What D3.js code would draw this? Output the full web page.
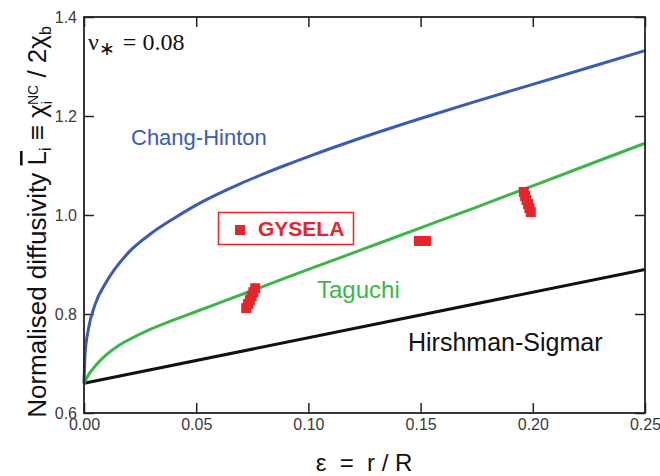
<!DOCTYPE html>
<html>
<head>
<meta charset="utf-8">
<script src="https://cdn.jsdelivr.net/npm/d3@7"></script>
<style>
  html, body { margin: 0; padding: 0; background: #fff; }
  svg { display: block; }
</style>
</head>
<body>
<svg id="chart" width="660" height="476"></svg>
<script>
// ---- data ----
const xTicks = [0, 0.05, 0.10, 0.15, 0.20, 0.25];
const yTicks = [0.6, 0.8, 1.0, 1.2, 1.4];

const changHintonEps = [0, 0.0005, 0.002, 0.005, 0.01, 0.02, 0.03, 0.04, 0.05, 0.06, 0.07, 0.08, 0.09, 0.10, 0.125, 0.15, 0.175, 0.20, 0.225, 0.25];
const changHintonVal = [0.66, 0.72, 0.77, 0.82, 0.865, 0.925, 0.963, 0.993, 1.02, 1.043, 1.064, 1.083, 1.101, 1.118, 1.158, 1.195, 1.23, 1.264, 1.298, 1.332];

const taguchiEps = [0, 0.002, 0.005, 0.01, 0.015, 0.02, 0.03, 0.04, 0.05, 0.06, 0.08, 0.10, 0.125, 0.15, 0.175, 0.20, 0.225, 0.25];
const taguchiVal = [0.66, 0.677, 0.695, 0.718, 0.735, 0.748, 0.77, 0.788, 0.805, 0.822, 0.856, 0.89, 0.932, 0.974, 1.016, 1.059, 1.102, 1.145];

const hirshmanEps = [0, 0.25];
const hirshmanVal = [0.66, 0.89];

const gyselaEps = [0.0723, 0.0731, 0.0739, 0.0747, 0.0755, 0.0763,
                   0.1493, 0.1524,
                   0.1960, 0.1966, 0.1972, 0.1979, 0.1985, 0.1991];
const gyselaVal = [0.812, 0.820, 0.828, 0.836, 0.844, 0.852,
                   0.9475, 0.9475,
                   1.0465, 1.0384, 1.0303, 1.0222, 1.0141, 1.006];

// ---- layout ----
const svg = d3.select("#chart");
const L = 84, R = 645, T = 17, B = 413;
const x = d3.scaleLinear().domain([0, 0.25]).range([L, R]);
const y = d3.scaleLinear().domain([0.6, 1.4]).range([B, T]);

const zip = (a, b) => a.map((v, i) => [v, b[i]]);
const line = d3.line().x(d => x(d[0])).y(d => y(d[1])).curve(d3.curveMonotoneX);
const sans = "Liberation Sans, Arial, sans-serif";

// axes with inward ticks
function styleAxis(g) {
  g.select(".domain").remove();
  g.selectAll(".tick line").attr("stroke", "#222").attr("stroke-width", 1.5);
  g.selectAll(".tick text").attr("fill", "#3a3a3a")
    .style("font-family", sans).style("font-size", "16px");
}
svg.append("g").attr("transform", `translate(0,${B})`)
  .call(d3.axisBottom(x).tickValues(xTicks).tickFormat(d3.format(".2f")).tickSize(-10).tickPadding(6))
  .call(styleAxis);
svg.append("g").attr("transform", `translate(0,${T})`)
  .call(d3.axisTop(x).tickValues(xTicks).tickFormat("").tickSize(-10))
  .call(styleAxis);
svg.append("g").attr("transform", `translate(${L},0)`)
  .call(d3.axisLeft(y).tickValues(yTicks).tickFormat(d3.format(".1f")).tickSize(-10).tickPadding(7))
  .call(styleAxis);
svg.append("g").attr("transform", `translate(${R},0)`)
  .call(d3.axisRight(y).tickValues(yTicks).tickFormat("").tickSize(-10))
  .call(styleAxis);

// curves
svg.append("path").datum(zip(hirshmanEps, hirshmanVal)).attr("d", line)
  .attr("fill", "none").attr("stroke", "#111").attr("stroke-width", 3);
svg.append("path").datum(zip(taguchiEps, taguchiVal)).attr("d", line)
  .attr("fill", "none").attr("stroke", "#3cb649").attr("stroke-width", 3);
svg.append("path").datum(zip(changHintonEps, changHintonVal)).attr("d", line)
  .attr("fill", "none").attr("stroke", "#3a5bb6").attr("stroke-width", 3);

// frame
svg.append("rect").attr("x", L).attr("y", T).attr("width", R - L).attr("height", B - T)
  .attr("fill", "none").attr("stroke", "#222").attr("stroke-width", 1.8);

// GYSELA points
const red = "#e8242a";
const sq = 10;
svg.append("g").selectAll("rect").data(zip(gyselaEps, gyselaVal)).join("rect")
  .attr("x", d => x(d[0]) - sq / 2).attr("y", d => y(d[1]) - sq / 2)
  .attr("width", sq).attr("height", sq).attr("fill", red);

// legend box
const lg = svg.append("g");
lg.append("rect").attr("x", 218.5).attr("y", 212.5).attr("width", 135).attr("height", 32)
  .attr("fill", "none").attr("stroke", red).attr("stroke-width", 1.5);
lg.append("rect").attr("x", 235).attr("y", 225).attr("width", sq).attr("height", sq).attr("fill", red);
lg.append("text").attr("x", 258).attr("y", 236).text("GYSELA")
  .attr("fill", red).style("font-family", sans)
  .style("font-size", "21px").style("font-weight", "bold");

// curve labels
svg.append("text").attr("x", 131).attr("y", 145).text("Chang-Hinton")
  .attr("fill", "#3a5bb6").style("font-family", sans).style("font-size", "22px");
svg.append("text").attr("x", 317).attr("y", 298).text("Taguchi")
  .attr("fill", "#3cb649").style("font-family", sans).style("font-size", "24px");
svg.append("text").attr("x", 408).attr("y", 351).text("Hirshman-Sigmar")
  .attr("fill", "#111").style("font-family", sans).style("font-size", "25px");

// nu* annotation
const nu = svg.append("text").attr("x", 88).attr("y", 50)
  .style("font-family", "Liberation Serif, Times New Roman, serif").style("font-size", "24px").attr("fill", "#111");
nu.append("tspan").text("ν");
nu.append("tspan").attr("dy", 5).style("font-size", "19px").text("∗");
nu.append("tspan").attr("dy", -5).attr("dx", 2).text(" = 0.08");

// x-axis title
svg.append("text").attr("x", 364).attr("y", 471).attr("text-anchor", "middle")
  .style("font-family", sans).style("font-size", "24px").style("white-space", "pre").attr("fill", "#111")
  .text("ε  =  r / R");

// y-axis title (rotated)
const yl = svg.append("text")
  .attr("transform", "translate(46,222) rotate(-90)")
  .attr("text-anchor", "middle")
  .style("font-family", sans).style("font-size", "26px").attr("fill", "#111");
yl.append("tspan").text("Normalised diffusivity  ");
yl.append("tspan").style("text-decoration", "overline").text("L");
yl.append("tspan").attr("dy", 5).style("font-size", "16px").text("i");
yl.append("tspan").attr("dy", -5).text(" ≡ χ");
yl.append("tspan").attr("dy", 6).style("font-size", "14px").text("i");
yl.append("tspan").attr("dx", -4).attr("dy", -14).style("font-size", "14px").text("NC");
yl.append("tspan").attr("dy", 8).text(" / 2χ");
yl.append("tspan").attr("dy", 5).style("font-size", "16px").text("b");
</script>
</body>
</html>
